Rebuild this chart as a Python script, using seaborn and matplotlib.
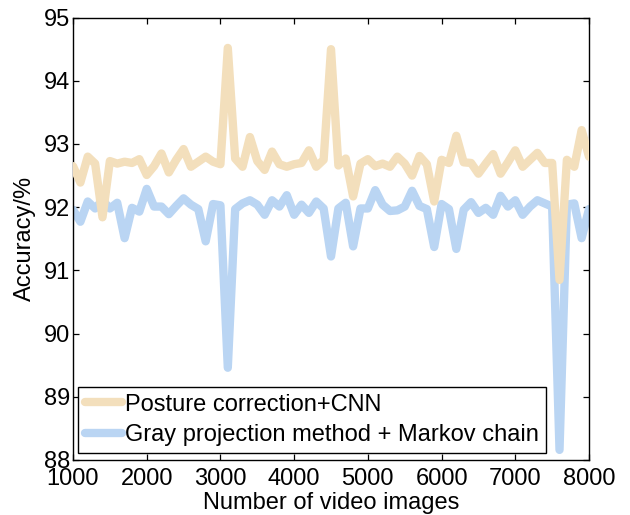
import matplotlib
matplotlib.use("Agg")
import matplotlib.pyplot as plt
import seaborn as sns
import pandas as pd

# ---------------- data ----------------
x_images = [1000, 1100, 1200, 1300, 1400, 1500, 1600, 1700, 1800, 1900,
            2000, 2100, 2200, 2300, 2400, 2500, 2600, 2700, 2800, 2900,
            3000, 3100, 3200, 3300, 3400, 3500, 3600, 3700, 3800, 3900,
            4000, 4100, 4200, 4300, 4400, 4500, 4600, 4700, 4800, 4900,
            5000, 5100, 5200, 5300, 5400, 5500, 5600, 5700, 5800, 5900,
            6000, 6100, 6200, 6300, 6400, 6500, 6600, 6700, 6800, 6900,
            7000, 7100, 7200, 7300, 7400, 7500, 7600, 7700, 7800, 7900,
            8000]

posture_cnn = [92.65, 92.39, 92.80, 92.69, 91.84, 92.73, 92.69, 92.72, 92.70, 92.76,
               92.51, 92.65, 92.85, 92.55, 92.75, 92.92, 92.64, 92.72, 92.80, 92.72,
               92.68, 94.52, 92.77, 92.64, 93.11, 92.73, 92.59, 92.88, 92.68, 92.64,
               92.68, 92.70, 92.90, 92.64, 92.75, 94.50, 92.66, 92.77, 92.17, 92.69,
               92.76, 92.65, 92.69, 92.64, 92.80, 92.69, 92.50, 92.81, 92.68, 92.09,
               92.75, 92.70, 93.13, 92.71, 92.70, 92.53, 92.69, 92.84, 92.53, 92.71,
               92.90, 92.64, 92.75, 92.86, 92.70, 92.70, 90.85, 92.75, 92.64, 93.22,
               92.80]

gray_markov = [91.96, 91.77, 92.09, 91.98, 92.11, 91.98, 92.07, 91.51, 91.99, 91.93,
               92.29, 92.01, 92.01, 91.89, 92.02, 92.14, 92.04, 91.97, 91.46, 92.05,
               92.03, 89.46, 91.97, 92.06, 92.11, 92.04, 91.88, 92.11, 92.01, 92.19,
               91.88, 92.04, 91.91, 92.09, 91.98, 91.22, 91.98, 92.07, 91.38, 91.98,
               91.98, 92.27, 92.04, 91.94, 91.95, 92.01, 92.26, 92.02, 91.97, 91.37,
               92.05, 91.97, 91.34, 91.96, 92.08, 91.91, 91.99, 91.88, 92.18, 92.01,
               92.11, 91.88, 92.01, 92.11, 92.06, 92.01, 88.16, 92.04, 92.06, 91.51,
               91.97]

series_names = ["Posture correction+CNN", "Gray projection method + Markov chain"]
series_colors = ["#F3DFBC", "#BAD5F3"]
x_ticks = [1000, 2000, 3000, 4000, 5000, 6000, 7000, 8000]
y_ticks = [88, 89, 90, 91, 92, 93, 94, 95]

# ---------------- style ----------------
sns.set_style("ticks")
plt.rcParams['font.family'] = ['Liberation Sans', 'DejaVu Sans']
plt.rcParams.update({
    "text.color": "black",
    "axes.labelcolor": "black",
    "xtick.color": "black",
    "ytick.color": "black",
    "xtick.labelcolor": "black",
    "ytick.labelcolor": "black",
    "axes.edgecolor": "black",
})

W, H = 630, 515
fig = plt.figure(figsize=(W / 100, H / 100), dpi=100)
ax = fig.add_axes([73 / W, 1 - 460 / H, (589 - 73) / W, (460 - 17.6) / H])

df_a = pd.DataFrame({"x": x_images, "acc": posture_cnn})
df_b = pd.DataFrame({"x": x_images, "acc": gray_markov})

sns.lineplot(data=df_a, x="x", y="acc", color=series_colors[0], linewidth=6.0,
             label=series_names[0], ax=ax, zorder=3, sort=False)
sns.lineplot(data=df_b, x="x", y="acc", color=series_colors[1], linewidth=6.0,
             label=series_names[1], ax=ax, zorder=2, sort=False)
for ln in ax.lines:
    ln.set_solid_joinstyle("round")

ax.set_xlim(1000, 8000)
ax.set_ylim(88, 95)
ax.set_xticks(x_ticks)
ax.set_yticks(y_ticks)
ax.tick_params(direction="in", top=True, right=True, length=4.3, width=0.9,
               labelsize=17, color="black", labelcolor="black")
ax.tick_params(axis="y", pad=2)
ax.tick_params(axis="x", pad=6)
for sp in ax.spines.values():
    sp.set_visible(True)
    sp.set_color("black")
    sp.set_linewidth(1.0)

ax.set_xlabel("Number of video images", fontsize=17, labelpad=1, color="black")
ax.set_ylabel("Accuracy/%", fontsize=17, labelpad=6, color="black")

leg = ax.legend(loc="lower left", bbox_to_anchor=(0.0097, 0.0158), borderaxespad=0,
                fontsize=17, frameon=True, fancybox=False, framealpha=1,
                edgecolor="black", handlelength=1.55, handletextpad=0.15,
                borderpad=0.3, labelspacing=0.35, labelcolor="black")
leg.get_frame().set_linewidth(1.0)

fig.savefig("out.png", dpi=100)
